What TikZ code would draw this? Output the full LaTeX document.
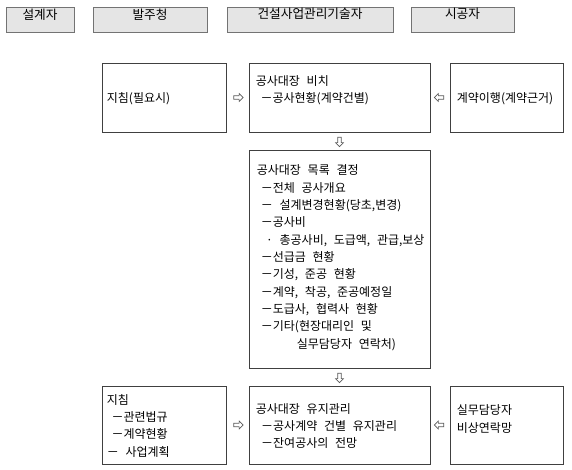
\documentclass[tikz,border=0pt]{standalone}
\usepackage{fontspec}
\setmainfont{Noto Sans CJK KR}[WordSpace=2.5]
\usetikzlibrary{positioning,calc,fit,shapes.arrows}

\begin{document}
\begin{tikzpicture}[x=0.75pt, y=-0.75pt,
    hdr/.style={draw=black!55, fill=black!10, line width=0.7pt, inner sep=0pt,
        font=\fontsize{9.5pt}{11pt}\selectfont},
    box/.style={draw=black!75, line width=0.6pt, inner sep=0pt},
    txt/.style={anchor=north west, align=left, inner sep=0pt,
        font=\fontsize{9pt}{13pt}\selectfont, execute at begin node=\strut},
    warr/.style={single arrow, draw=black!65, line width=0.5pt, inner sep=1.1pt,
        minimum height=7pt, single arrow head extend=1.6pt}]
    \useasboundingbox (0,0) rectangle (572,470);

    % Headers
    \node[hdr, fit={(6,7) (74,32)}] (hd1) {설계자};
    \node[hdr, fit={(93,7) (207,32)}] (hd2) {발주청};
    \node[hdr, fit={(227,7) (393,32)}] (hd3) {건설사업관리기술자};
    \node[hdr, fit={(411,7) (514,32)}] (hd4) {시공자};

    % Boxes
    \node[box, fit={(102,63) (226,132)}] (own1) {};
    \node[box, fit={(249,63) (430,132)}] (cm1) {};
    \node[box, fit={(450,63) (563,132)}] (con1) {};
    \node[box, fit={(249,150) (430,368)}] (cm2) {};
    \node[box, fit={(102,386) (226,464)}] (own3) {};
    \node[box, fit={(249,386) (430,464)}] (cm3) {};
    \node[box, fit={(450,386) (563,464)}] (con3) {};

    % Texts
    \node[txt] (town1) at ($(own1.north west)+(5,27.5)$) {지침(필요시)};
    \node[txt] (tcm1) at ($(cm1.north west)+(7,12.4)$) {공사대장 비치\\\hspace{3.5pt}－공사현황(계약건별)};
    \node[txt] (tcon1) at ($(con1.north west)+(7,27.5)$) {계약이행(계약근거)};
    \node[txt] (tcm2) at ($(cm2.north west)+(8,15)$) {공사대장 목록 결정\\
        \hspace{3pt}－전체 공사개요\\
        \hspace{3pt}－ 설계변경현황(당초,변경)\\
        \hspace{3pt}－공사비\\
        \hspace{7pt}· 총공사비, 도급액, 관급,보상\\
        \hspace{3pt}－선급금 현황\\
        \hspace{3pt}－기성, 준공 현황\\
        \hspace{3pt}－계약, 착공, 준공예정일\\
        \hspace{3pt}－도급사, 협력사 현황\\
        \hspace{3pt}－기타(현장대리인 및\\
        \hspace{30pt}실무담당자 연락처)};
    \node[txt] (town3) at ($(own3.north west)+(5,8.2)$) {지침\\\hspace{3.5pt}－관련법규\\\hspace{3.5pt}－계약현황\\－ 사업계획};
    \node[txt] (tcm3) at ($(cm3.north west)+(7,17.4)$) {공사대장 유지관리\\\hspace{4pt}－공사계약 건별 유지관리\\\hspace{4pt}－잔여공사의 전망};
    \node[txt] (tcon3) at ($(con3.north west)+(7,18.9)$) {실무담당자\\비상연락망};

    % Arrows
    \node[warr] (a1) at ($(own1.east)!0.5!(cm1.west)$) {};
    \node[warr, shape border rotate=180] (a2) at ($(cm1.east)!0.5!(con1.west)$) {};
    \node[warr, shape border rotate=270] (a3) at ($(cm1.south)!0.5!(cm2.north)$) {};
    \node[warr, shape border rotate=270] (a4) at ($(cm2.south)!0.5!(cm3.north)$) {};
    \node[warr] (a5) at ($(own3.east)!0.5!(cm3.west)$) {};
    \node[warr, shape border rotate=180] (a6) at ($(cm3.east)!0.5!(con3.west)$) {};
\end{tikzpicture}
\end{document}
